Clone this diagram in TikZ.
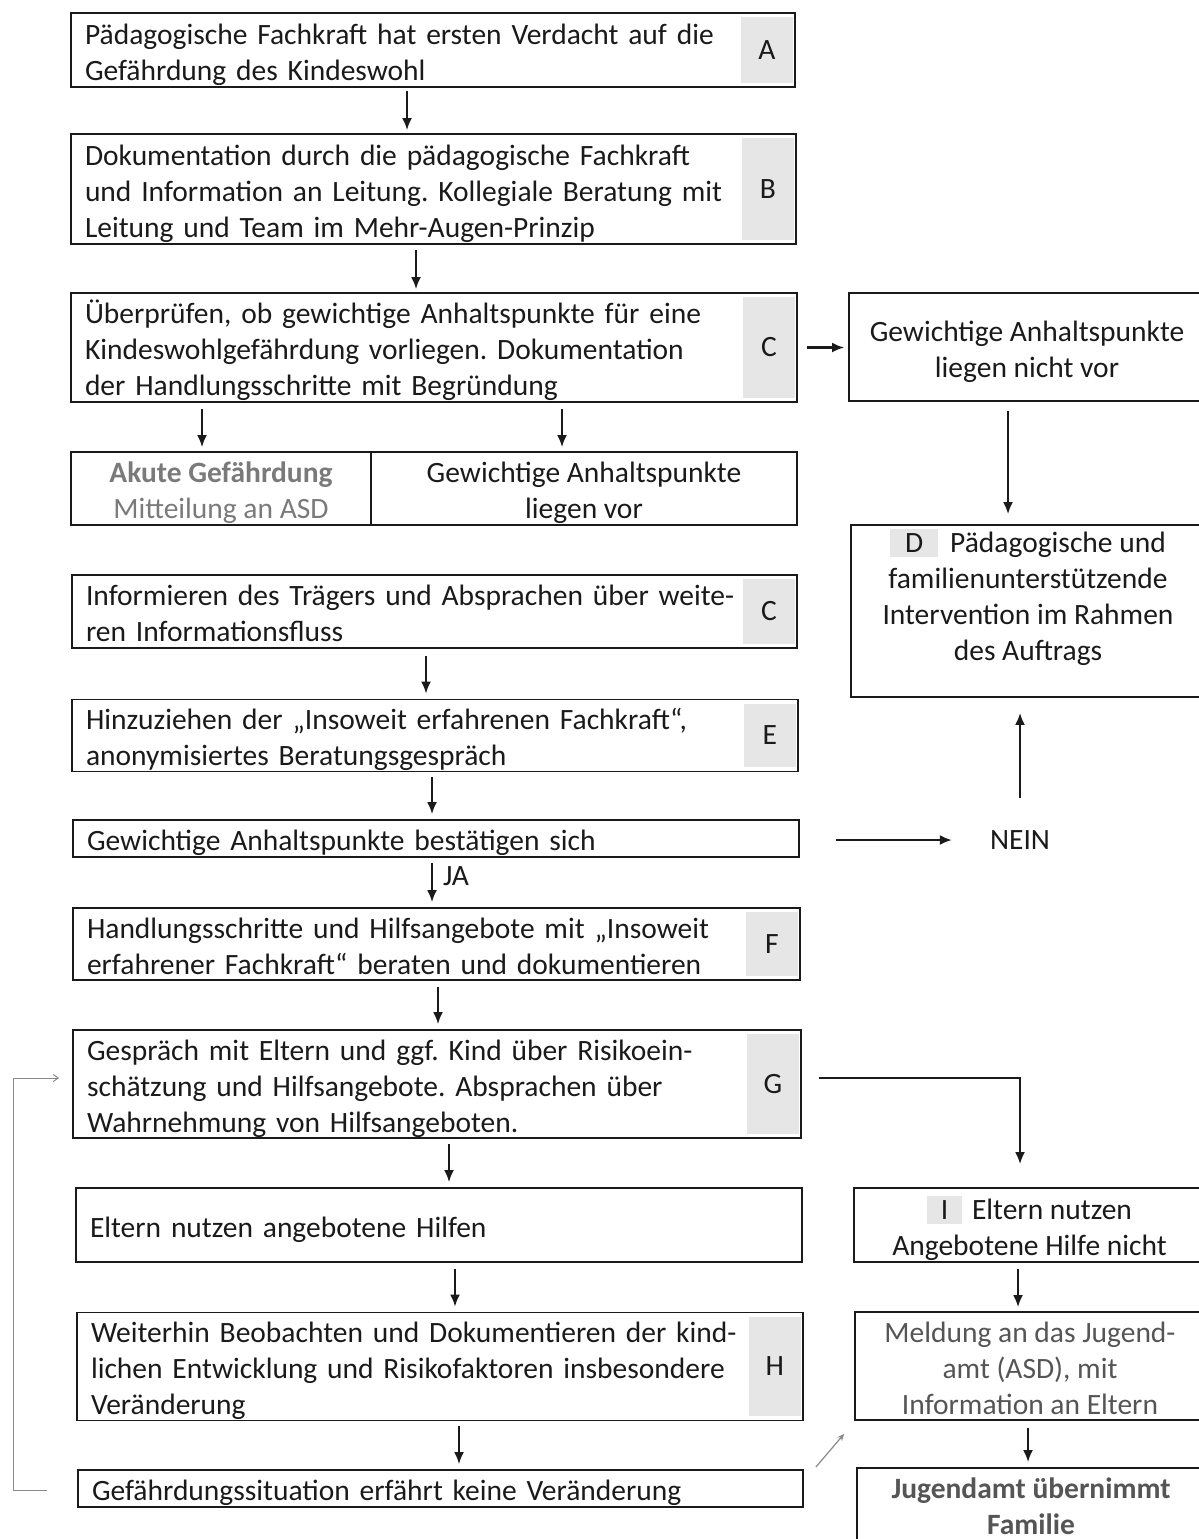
\documentclass[tikz,border=0pt]{standalone}
\usepackage{fontspec}
\setmainfont{Carlito}
\usetikzlibrary{arrows.meta,calc}
\definecolor{ink}{HTML}{1A1A1A}
\definecolor{cellgray}{HTML}{E6E6E6}
\definecolor{akgray}{HTML}{7A7A7A}
\definecolor{mgray}{HTML}{555555}
\definecolor{fbgray}{HTML}{8A8A8A}
\newcommand{\hlbox}[2]{{\setlength{\fboxsep}{0pt}\colorbox{cellgray}{\makebox[#1]{\rule[-5pt]{0pt}{28pt}#2}}}}
\newcommand{\topstrut}{\rule{0pt}{30pt}}
\newcommand{\botstrut}{\rule[-6pt]{0pt}{6pt}}
\frenchspacing
\begin{document}
\begin{tikzpicture}[x=1pt,y=-1pt,
  every node/.style={font=\fontsize{29.5pt}{36pt}\selectfont, text=ink},
  lbox/.style={draw=ink, line width=1.8pt, align=left, inner xsep=14pt, inner ysep=0pt,
    execute at begin node=\topstrut, execute at end node=\botstrut},
  rbox/.style={draw=ink, line width=1.8pt, align=center, inner sep=0pt},
  ebox/.style={draw=ink, line width=1.8pt, inner sep=0pt},
  cellbox/.style={fill=cellgray, inner sep=0pt, minimum width=52pt},
  arr/.style={draw=ink, line width=2.1pt, -{Latex[length=12pt,width=10pt]}},
  fb/.style={draw=fbgray, line width=1pt, -{Straight Barb[length=5pt,width=7pt]}},
  sl/.style={draw=fbgray, line width=1.2pt, -{Stealth[length=7pt,width=6pt]}}
]
\useasboundingbox (0,0) rectangle (1199,1539);
\clip (0,0) rectangle (1199,1539);

% left column
\node[lbox, minimum width=724pt, minimum height=74pt, text width=696pt] (A) at (433,50)
  {Pädagogische Fachkraft hat ersten Verdacht auf die\\Gefährdung des Kindeswohl};
\node[cellbox, minimum height=66pt] (Acell) at ($(A.east)+(-29,0)$) {A};

\node[lbox, minimum width=725pt, minimum height=110pt, text width=697pt] (B) at (433.5,189)
  {Dokumentation durch die pädagogische Fachkraft\\und Information an Leitung. Kollegiale Beratung mit\\Leitung und Team im Mehr-Augen-Prinzip};
\node[cellbox, minimum height=102pt] (Bcell) at ($(B.east)+(-29,0)$) {B};

\node[lbox, minimum width=726pt, minimum height=109pt, text width=698pt] (C) at (434,347.5)
  {Überprüfen, ob gewichtige Anhaltspunkte für eine\\Kindeswohlgefährdung vorliegen. Dokumentation\\der Handlungsschritte mit Begründung};
\node[cellbox, minimum height=101pt] (Ccell) at ($(C.east)+(-29,0)$) {C};

\node[rbox, minimum width=300pt, minimum height=73pt] (AK) at (221,488.5)
  {\topstrut{\color{akgray}\bfseries Akute Gefährdung}\\{\color{akgray}Mitteilung an ASD}\botstrut};
\node[rbox, minimum width=426pt, minimum height=73pt] (GA) at (584,488.5)
  {\topstrut Gewichtige Anhaltspunkte\\liegen vor\botstrut};

\node[lbox, minimum width=725pt, minimum height=73pt, text width=697pt] (C2) at (434.5,611.5)
  {Informieren des Trägers und Absprachen über weite-\\ren Informationsfluss};
\node[cellbox, minimum height=65pt] (C2cell) at ($(C2.east)+(-29,0)$) {C};

\node[lbox, minimum width=726pt, minimum height=71pt, text width=698pt] (E) at (435,735.5)
  {Hinzuziehen der „Insoweit erfahrenen Fachkraft“,\\anonymisiertes Beratungsgespräch};
\node[cellbox, minimum height=63pt] (Ecell) at ($(E.east)+(-29,0)$) {E};

\node[lbox, minimum width=726pt, minimum height=37pt, text width=698pt] (BS) at (436,838.5)
  {Gewichtige Anhaltspunkte bestätigen sich};

\node[lbox, minimum width=727pt, minimum height=72pt, text width=699pt] (F) at (436.5,944)
  {Handlungsschritte und Hilfsangebote mit „Insoweit\\erfahrener Fachkraft“ beraten und dokumentieren};
\node[cellbox, minimum height=64pt] (Fcell) at ($(F.east)+(-29,0)$) {F};

\node[lbox, minimum width=728pt, minimum height=108pt, text width=700pt] (G) at (437,1084)
  {Gespräch mit Eltern und ggf. Kind über Risikoein-\\schätzung und Hilfsangebote. Absprachen über\\Wahrnehmung von Hilfsangeboten.};
\node[cellbox, minimum height=100pt] (Gcell) at ($(G.east)+(-29,0)$) {G};

\node[lbox, minimum width=726pt, minimum height=74pt, text width=698pt] (EN) at (439,1225)
  {Eltern nutzen angebotene Hilfen};

\node[lbox, minimum width=726pt, minimum height=107pt, text width=698pt] (H) at (440,1366.5)
  {Weiterhin Beobachten und Dokumentieren der kind-\\lichen Entwicklung und Risikofaktoren insbesondere\\Veränderung};
\node[cellbox, minimum height=99pt] (Hcell) at ($(H.east)+(-29,0)$) {H};

\node[lbox, minimum width=725pt, minimum height=37pt, text width=697pt] (GS) at (440.5,1488.5)
  {Gefährdungssituation erfährt keine Veränderung};

% right column
\node[rbox, minimum width=356pt, minimum height=108pt] (NV) at (1027,347)
  {\topstrut Gewichtige Anhaltspunkte\\liegen nicht vor\botstrut};
\node[ebox, minimum width=354pt, minimum height=172pt] (D) at (1028,611) {};
\node[align=center, inner sep=0pt] (Dt) at (1028,594)
  {\topstrut\hlbox{48pt}{D}\hspace{12pt}Pädagogische und\\familienunterstützende\\Intervention im Rahmen\\des Auftrags\botstrut};
\node[inner sep=0pt] (NEIN) at (1020,840) {NEIN};

\node[rbox, minimum width=351pt, minimum height=74pt] (I) at (1029.5,1225)
  {\topstrut\hlbox{35pt}{I}\hspace{10pt}Eltern nutzen\\Angebotene Hilfe nicht\botstrut};
\node[rbox, minimum width=350pt, minimum height=108pt] (M) at (1030,1366)
  {\topstrut{\color{mgray}Meldung an das Jugend-}\\{\color{mgray}amt (ASD), mit}\\{\color{mgray}Information an Eltern}\botstrut};
\node[rbox, minimum width=348pt, minimum height=74pt] (J) at (1031,1507)
  {\topstrut{\color{mgray}\bfseries Jugendamt übernimmt}\\{\color{mgray}\bfseries Familie}\rule[-12pt]{0pt}{12pt}};

% connectors
\draw[arr] ($(A.south)+(-26,3)$) -- ($(B.north)+(-26.5,-3)$);
\draw[arr] ($(B.south)+(-17.5,5)$) -- ($(C.north)+(-18,-3)$);
\draw[arr] ($(C.south)+(-232,6)$) -- ($(AK.north)+(-19,-4)$);
\draw[arr] ($(C.south)+(128,6)$) -- ($(GA.north)+(-22,-4)$);
\draw[arr] ($(C.east)+(9,0)$) -- ($(C.east -| NV.west)+(-4,0)$);
\draw[arr] ($(NV.south)+(-19,9)$) -- ($(D.north)+(-20,-10)$);
\draw[arr] ($(C2.south)+(-8.5,7)$) -- ($(E.north)+(-9,-5)$);
\draw[arr] ($(E.south)+(-3,5)$) -- ($(BS.north)+(-4,-5)$);
\draw[arr] ($(BS.south)+(-4,5)$) -- node[right, pos=0.35, inner sep=0pt, xshift=10pt] (JA) {JA} ($(F.north)+(-4.5,-5)$);
\draw[arr] ($(BS.east)+(36,1.5)$) -- ($(BS.east -| NEIN.west)+(-38,1.5)$);
\draw[arr] ($(NEIN.north)+(0,-32)$) -- ($(D.south -| NEIN.north)+(0,15)$);
\draw[arr] ($(F.south)+(1.5,6)$) -- ($(G.north)+(1,-5)$);
\draw[arr] ($(G.east)+(17,-6)$) -| ($(I.north)+(-9.5,-23)$);
\draw[arr] ($(G.south)+(12,5)$) -- ($(EN.north)+(10,-5)$);
\draw[arr] ($(EN.south)+(16,6)$) -- ($(H.north)+(15,-5)$);
\draw[arr] ($(H.south)+(19,5)$) -- ($(GS.north)+(18.5,-5)$);
\draw[arr] ($(I.south)+(-11.5,6)$) -- ($(M.north)+(-12,-4)$);
\draw[arr] ($(M.south)+(-2,7)$) -- ($(J.north)+(-3,-5)$);
\draw[fb] ($(GS.west)+(-30,1.5)$) -- ++(-34,0) |- ($(G.west)+(-13,-6)$);
\draw[sl] ($(GS.east)+(12,-21.5)$) -- ($(M.south west)+(-10,13)$);
\end{tikzpicture}
\end{document}
